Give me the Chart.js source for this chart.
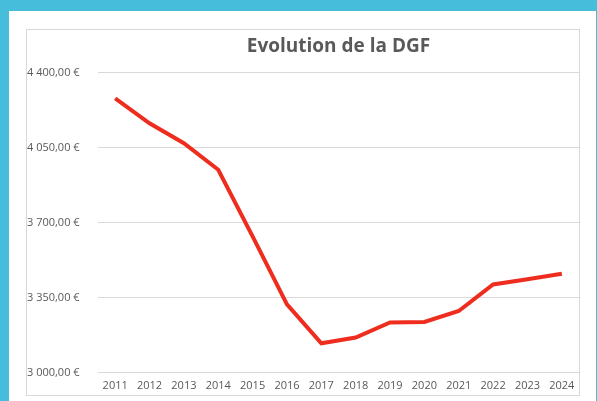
<!DOCTYPE html>
<html>
<head>
<meta charset="utf-8">
<script src="https://cdn.jsdelivr.net/npm/chart.js@4"></script>
<style>
  html, body { margin: 0; padding: 0; }
  body { width: 597px; height: 401px; background: #45bddb; position: relative; overflow: hidden; }
  #panel { position: absolute; left: 9px; top: 11px; width: 587px; height: 390px; background: #fff; }
  #box { position: absolute; left: 26px; top: 29px; width: 552px; height: 365px; border: 1px solid #d9d9d9; background: #fff; }
  #dgfChart { display: block; }
</style>
</head>
<body>
<div id="panel"></div>
<div id="box"><canvas id="dgfChart" width="552" height="365"></canvas></div>
<script>
// années (axe X)
const annees = ['2011', '2012', '2013', '2014', '2015', '2016', '2017', '2018', '2019', '2020', '2021', '2022', '2023', '2024'];
// montant de la DGF (€)
const montantsDGF = [4281, 4164, 4071, 3947, 3636, 3318, 3136, 3163, 3233, 3236, 3287, 3411, 3435, 3461];
// axe Y
const yMin = 3000;
const yMax = 4400;
const yPas = 350;

// format "4 400,00 €"
function formatEuro(v) {
    const entier = Math.round(v).toString().replace(/\B(?=(\d{3})+(?!\d))/g, ' ');
    return entier + ',00 €';
}

const ctx = document.getElementById('dgfChart').getContext('2d');
new Chart(ctx, {
    type: 'line',
    data: {
        labels: annees,
        datasets: [{
            label: 'DGF',
            data: montantsDGF,
            borderColor: '#ee2d1f',
            borderWidth: 4,
            pointRadius: 0,
            tension: 0,
            fill: false
        }]
    },
    options: {
        responsive: false,
        animation: false,
        layout: { padding: { left: 0, right: 0, top: 0, bottom: 0 } },
        plugins: {
            legend: { display: false },
            tooltip: { enabled: false },
            title: {
                display: true,
                text: 'Evolution de la DGF',
                fullSize: false, // centré sur la zone de tracé
                color: '#595959',
                font: { family: 'Open Sans', size: 19, weight: 'bold' },
                padding: { top: 5, bottom: 15 }
            }
        },
        scales: {
            x: {
                offset: true,
                grid: { display: false, drawTicks: false },
                border: { display: false },
                afterFit: (scale) => {
                    // pas de marge pour le débordement des étiquettes
                    scale.paddingLeft = 0;
                    scale.paddingRight = 0;
                    scale.height = 19;
                },
                ticks: {
                    color: '#595959',
                    font: { family: 'Open Sans', size: 11 },
                    padding: 7,
                    maxRotation: 0,
                    autoSkip: false
                }
            },
            y: {
                min: yMin,
                max: yMax,
                grid: { color: '#d9d9d9', lineWidth: 1, drawTicks: false },
                border: { display: false },
                afterFit: (scale) => { scale.width = 71; },
                ticks: {
                    stepSize: yPas,
                    color: '#595959',
                    font: { family: 'Open Sans', size: 11 },
                    crossAlign: 'far',
                    padding: 16,
                    callback: (v) => formatEuro(v)
                }
            }
        }
    }
});
</script>
</body>
</html>
